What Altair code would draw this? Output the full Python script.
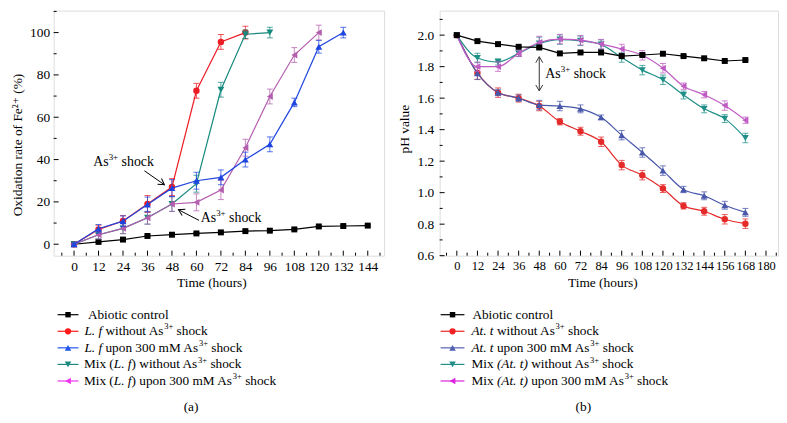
import altair as alt
import pandas as pd

FONT = "'Liberation Serif', 'Times New Roman', Times, 'DejaVu Serif', serif"

# ---------------- Panel (a): oxidation rate of Fe2+ (%) ----------------
a_hours = [0, 12, 24, 36, 48, 60, 72, 84, 96, 108, 120, 132, 144]
a_abiotic = [0, 1.1, 2.2, 3.9, 4.5, 5.1, 5.6, 6.2, 6.4, 7.0, 8.4, 8.6, 8.8]
a_abiotic_err = [0.3, 0.3, 0.3, 0.4, 0.4, 0.4, 0.4, 0.4, 0.4, 0.5, 0.5, 0.5, 0.5]
a_lf_no = [0, 7.0, 11.0, 19.0, 27.0, 72.5, 95.6, 100.0]
a_lf_no_err = [0.5, 2.0, 2.5, 4.0, 4.0, 3.5, 3.5, 3.0]
a_lf_shock = [0, 7.3, 10.9, 18.8, 26.5, 30.0, 31.6, 40.0, 47.2, 67.0, 93.3, 100.0]
a_lf_shock_err = [0.5, 2.0, 2.5, 3.5, 4.0, 4.0, 3.5, 3.5, 3.5, 2.0, 3.0, 2.5]
a_mix_no = [0, 4.5, 7.5, 12.5, 19.0, 28.6, 73.0, 99.2, 100.0]
a_mix_no_err = [0.5, 2.0, 2.5, 3.0, 3.5, 4.0, 3.5, 2.0, 2.5]
a_mix_shock = [0, 4.5, 7.5, 12.5, 19.0, 19.8, 25.6, 45.6, 69.8, 89.4, 100.0]
a_mix_shock_err = [0.5, 2.0, 2.5, 3.0, 3.5, 4.0, 4.5, 4.0, 3.5, 3.5, 3.5]
a_x_major = [0, 12, 24, 36, 48, 60, 72, 84, 96, 108, 120, 132, 144]
a_x_minor = [-6, 6, 18, 30, 42, 54, 66, 78, 90, 102, 114, 126, 138, 150]
a_y_major = [0, 20, 40, 60, 80, 100]
a_y_minor = [10, 30, 50, 70, 90, 110]

# ---------------- Panel (b): pH value ----------------
b_hours = [0, 12, 24, 36, 48, 60, 72, 84, 96, 108, 120, 132, 144, 156, 168]
b_abiotic = [2.0, 1.962, 1.943, 1.926, 1.922, 1.884, 1.89, 1.89, 1.867, 1.874, 1.882, 1.867, 1.853, 1.836, 1.842]
b_abiotic_err = [0.005, 0.005, 0.005, 0.005, 0.005, 0.005, 0.005, 0.005, 0.005, 0.005, 0.005, 0.005, 0.005, 0.005, 0.005]
b_at_no = [2.0, 1.76, 1.635, 1.60, 1.55, 1.45, 1.39, 1.323, 1.175, 1.111, 1.026, 0.916, 0.882, 0.831, 0.803]
b_at_no_err = [0.0, 0.04, 0.03, 0.025, 0.03, 0.02, 0.025, 0.03, 0.03, 0.03, 0.025, 0.02, 0.025, 0.03, 0.03]
b_at_shock = [2.0, 1.758, 1.636, 1.60, 1.556, 1.55, 1.532, 1.478, 1.365, 1.255, 1.14, 1.02, 0.98, 0.92, 0.875]
b_at_shock_err = [0.0, 0.04, 0.02, 0.02, 0.03, 0.03, 0.025, 0.015, 0.03, 0.03, 0.03, 0.02, 0.025, 0.025, 0.025]
b_mix_no = [2.0, 1.855, 1.83, 1.884, 1.947, 1.972, 1.964, 1.94, 1.858, 1.778, 1.717, 1.62, 1.532, 1.47, 1.347]
b_mix_no_err = [0.0, 0.03, 0.02, 0.02, 0.04, 0.03, 0.03, 0.03, 0.03, 0.03, 0.03, 0.025, 0.025, 0.025, 0.03]
b_mix_shock = [2.0, 1.80, 1.80, 1.884, 1.953, 1.975, 1.968, 1.943, 1.912, 1.872, 1.79, 1.676, 1.622, 1.553, 1.46]
b_mix_shock_err = [0.0, 0.03, 0.03, 0.02, 0.04, 0.03, 0.03, 0.03, 0.03, 0.03, 0.03, 0.02, 0.02, 0.03, 0.02]
b_x_major = [0, 12, 24, 36, 48, 60, 72, 84, 96, 108, 120, 132, 144, 156, 168, 180]
b_x_minor = [-6, 6, 18, 30, 42, 54, 66, 78, 90, 102, 114, 126, 138, 150, 162, 174, 186]
b_y_major = [0.6, 0.8, 1.0, 1.2, 1.4, 1.6, 1.8, 2.0]
b_y_minor = [0.7, 0.9, 1.1, 1.3, 1.5, 1.7, 1.9, 2.1]

# ---------------- text helpers (Times metrics) ----------------
REG = {' ': 250, '(': 333, ')': 333, '+': 564, '.': 250, '%': 833,
       'A': 722, 'F': 556, 'L': 611, 'M': 889,
       'a': 444, 'b': 500, 'c': 444, 'e': 444, 'f': 333, 'h': 500, 'i': 278,
       'k': 500, 'l': 278, 'm': 778, 'n': 500, 'o': 500, 'p': 500, 'r': 333,
       's': 389, 't': 278, 'u': 500, 'w': 722, 'x': 500}
for _d in '0123456789':
    REG[_d] = 500
ITA = {' ': 250, '(': 333, ')': 333, '.': 250, 'A': 611, 'L': 556, 'f': 278, 't': 278}


def tw(s, fs, italic=False):
    tbl = ITA if italic else REG
    return sum(tbl.get(c, 500) for c in s) * fs / 1000.0


def seg_props(st, fs):
    f = fs * 0.64 if st == 's' else fs
    dy = -fs * 0.36 if st == 's' else 0
    return f, dy


def split_lead(txt):
    stripped = txt.lstrip(' ')
    return len(txt) - len(stripped), stripped


ONE = [{"k": 0}]


def text_pixel(segs, x0, y0, fs):
    out = []
    off = 0.0
    for txt, st in segs:
        f, dy = seg_props(st, fs)
        nlead, core = split_lead(txt)
        off += nlead * 250 * f / 1000.0
        out.append(
            alt.Chart(alt.Data(values=ONE)).mark_text(
                text=core, font=FONT, fontSize=f,
                fontStyle='italic' if st == 'i' else 'normal',
                align='left', baseline='middle', color='black'
            ).encode(x=alt.value(x0 + off), y=alt.value(y0 + dy))
        )
        off += tw(core, f, st == 'i')
    return out


def text_data(segs, xv, yv, fs, sx, sy, ax, ay, color='black'):
    out = []
    off = 0.0
    for txt, st in segs:
        f, dy = seg_props(st, fs)
        nlead, core = split_lead(txt)
        off += nlead * 250 * f / 1000.0
        out.append(
            alt.Chart(alt.Data(values=[{"x": xv, "y": yv}])).mark_text(
                text=core, font=FONT, fontSize=f, align='left', baseline='middle',
                color=color, dx=off, dy=dy
            ).encode(x=alt.X('x:Q', scale=sx, axis=ax), y=alt.Y('y:Q', scale=sy, axis=ay))
        )
        off += tw(core, f)
    return out


ARROW = "M-0.7,1.2 L0,0 L0.7,1.2"


def arrow(x1, y1, x2, y2, heads, sx, sy, ax, ay, color='black'):
    seg = alt.Chart(alt.Data(values=[{"x": x1, "y": y1, "x2": x2, "y2": y2}])).mark_rule(
        color=color, strokeWidth=1
    ).encode(x=alt.X('x:Q', scale=sx, axis=ax), y=alt.Y('y:Q', scale=sy, axis=ay),
             x2='x2:Q', y2='y2:Q')
    out = [seg]
    for (hx, hy, ang) in heads:
        out.append(
            alt.Chart(alt.Data(values=[{"x": hx, "y": hy}])).mark_point(
                shape=ARROW, size=100, filled=False, stroke=color, strokeWidth=1, angle=ang, opacity=1
            ).encode(x=alt.X('x:Q', scale=sx, axis=ax), y=alt.Y('y:Q', scale=sy, axis=ay))
        )
    return out


def series_layers(hours, vals, errs, color, shape, size, sx, sy, ax, ay, interp):
    n = len(vals)
    df = pd.DataFrame({"t": hours[:n], "v": vals, "lo": [v - e for v, e in zip(vals, errs)],
                       "hi": [v + e for v, e in zip(vals, errs)]})
    base = alt.Chart(df)
    X = alt.X('t:Q', scale=sx, axis=ax)
    bar = base.mark_rule(color=color, strokeWidth=1, opacity=0.75).encode(
        x=X, y=alt.Y('lo:Q', scale=sy, axis=ay), y2='hi:Q')
    cap1 = base.mark_tick(color=color, orient='horizontal', size=6, thickness=1, opacity=0.75).encode(
        x=X, y=alt.Y('lo:Q', scale=sy, axis=ay))
    cap2 = base.mark_tick(color=color, orient='horizontal', size=6, thickness=1, opacity=0.75).encode(
        x=X, y=alt.Y('hi:Q', scale=sy, axis=ay))
    line = base.mark_line(color=color, strokeWidth=1.2, interpolate=interp).encode(
        x=X, y=alt.Y('v:Q', scale=sy, axis=ay))
    pts = base.mark_point(shape=shape, size=size, filled=True, color=color, opacity=1).encode(
        x=X, y=alt.Y('v:Q', scale=sy, axis=ay))
    return [bar, cap1, cap2, line, pts]


def tick_layers(sx, sy, H, xmaj, xmin, ymaj, ymin, ax, ay):
    L = []
    L.append(alt.Chart(pd.DataFrame({"v": xmaj})).mark_rule(color='black', strokeWidth=1).encode(
        x=alt.X('v:Q', scale=sx, axis=ax), y=alt.value(H), y2=alt.value(H - 5)))
    L.append(alt.Chart(pd.DataFrame({"v": xmin})).mark_rule(color='black', strokeWidth=1).encode(
        x=alt.X('v:Q', scale=sx, axis=ax), y=alt.value(H), y2=alt.value(H - 3)))
    L.append(alt.Chart(pd.DataFrame({"v": ymaj})).mark_rule(color='black', strokeWidth=1).encode(
        y=alt.Y('v:Q', scale=sy, axis=ay), x=alt.value(0), x2=alt.value(5)))
    L.append(alt.Chart(pd.DataFrame({"v": ymin})).mark_rule(color='black', strokeWidth=1).encode(
        y=alt.Y('v:Q', scale=sy, axis=ay), x=alt.value(0), x2=alt.value(3)))
    return L


def legend_layers(rows, xl0, xl1, xm, ys, fs):
    L = []
    for (segs, color, shape, size, xt), y in zip(rows, ys):
        L.append(alt.Chart(alt.Data(values=ONE)).mark_rule(color=color, strokeWidth=1.2).encode(
            x=alt.value(xl0), x2=alt.value(xl1), y=alt.value(y)))
        L.append(alt.Chart(alt.Data(values=ONE)).mark_point(
            shape=shape, size=size, filled=True, color=color, opacity=1).encode(
            x=alt.value(xm), y=alt.value(y)))
        L += text_pixel(segs, xt, y, fs)
    return L


def anchor(xpix):
    return alt.Chart(alt.Data(values=ONE)).mark_rule(opacity=0).encode(
        x=alt.value(xpix), x2=alt.value(xpix), y=alt.value(10), y2=alt.value(12))


def make_axes(xvals, yvals, xtitle_x, ytitle, ytitle_x, ytitle_y, xlabsize, ylabpad, yfmt):
    ax = alt.Axis(values=xvals, ticks=False, domain=False, grid=False, labelFont=FONT,
                  labelFontSize=xlabsize, labelColor='black', labelPadding=4, labelOverlap=False,
                  title='Time (hours)', titleFont=FONT, titleFontSize=13.5, titleFontWeight='normal',
                  titleColor='black', titleX=xtitle_x, titleY=27.5, titleBaseline='middle',
                  titleAlign='center')
    ay = alt.Axis(values=yvals, ticks=False, domain=False, grid=False, labelFont=FONT,
                  labelFontSize=13.5, labelColor='black', labelPadding=ylabpad, format=yfmt,
                  labelOverlap=False, title=ytitle, titleFont=FONT, titleFontSize=13.5,
                  titleFontWeight='normal', titleColor='black', titleX=ytitle_x, titleY=ytitle_y,
                  titleBaseline='middle', titleAlign='center', titleAngle=270)
    return ax, ay


H = 247
LEG_Y = [306.5, 323.2, 339.9, 356.6, 373.3]
SHOCK = [("As", 'n'), ("3+", 's'), (" shock", 'n')]

# ---------------- build panel (a) ----------------
WA = 333
sxa = alt.Scale(domain=[-10, 152], nice=False, zero=False)
sya = alt.Scale(domain=[-5.4, 110.4], nice=False, zero=False)
xa_axis, ya_axis = make_axes(a_x_major, a_y_major, 159, 'Oxidation rate of Fe²⁺ (%)', -36, 135, 13.5, 4, 'd')
A = (sxa, sya, xa_axis, ya_axis)

layers_a = [anchor(-45)]
layers_a += tick_layers(sxa, sya, H, a_x_major, a_x_minor, a_y_major, a_y_minor, xa_axis, ya_axis)
layers_a += series_layers(a_hours, a_abiotic, a_abiotic_err, '#000000', 'square', 36, *A, 'linear')
layers_a += series_layers(a_hours, a_lf_no, a_lf_no_err, '#ec1c24', 'circle', 42, *A, 'linear')
layers_a += series_layers(a_hours, a_mix_no, a_mix_no_err, '#178a7e', 'triangle-down', 48, *A, 'linear')
layers_a += series_layers(a_hours, a_mix_shock, a_mix_shock_err, '#b45eae', 'triangle-left', 48, *A, 'linear')
layers_a += series_layers(a_hours, a_lf_shock, a_lf_shock_err, '#1f45e0', 'triangle-up', 48, *A, 'linear')
layers_a += text_data(SHOCK, 9.4, 38.9, 14, *A)
layers_a += arrow(34.5, 34.7, 44.3, 28.1, [(44.3, 28.1, 125)], *A)
layers_a += text_data(SHOCK, 62.1, 12.2, 14, *A)
layers_a += arrow(61.3, 11.25, 51.2, 16.3, [(51.2, 16.3, 297)], *A)
rows_a = [
    ([("Abiotic control", 'n')], '#000000', 'square', 30, 34.5),
    ([("L. f", 'i'), (" without As", 'n'), ("3+", 's'), (" shock", 'n')], '#ff1a1a', 'circle', 40, 31),
    ([("L. f", 'i'), (" upon 300 mM As", 'n'), ("3+", 's'), (" shock", 'n')], '#2255ee', 'triangle-up', 44, 31),
    ([("Mix (", 'n'), ("L. f", 'i'), (") without As", 'n'), ("3+", 's'), (" shock", 'n')], '#1b8a80', 'triangle-down', 44, 30.5),
    ([("Mix (", 'n'), ("L. f", 'i'), (") upon 300 mM As", 'n'), ("3+", 's'), (" shock", 'n')], '#ee33ee', 'triangle-left', 44, 30.5),
]
layers_a += legend_layers(rows_a, 4, 25, 14.5, LEG_Y, 13.4)
layers_a += text_pixel([("(a)", 'n')], 131, 399.5, 13.5)
panel_a = alt.layer(*layers_a).properties(width=WA, height=H)

# ---------------- build panel (b) ----------------
WB = 341
sxb = alt.Scale(domain=[-10, 187], nice=False, zero=False)
syb = alt.Scale(domain=[0.6, 2.156], nice=False, zero=False)
xb_axis, yb_axis = make_axes(b_x_major, b_y_major, 164, 'pH value', -35, 119, 12.5, 6, '.1f')
B = (sxb, syb, xb_axis, yb_axis)

layers_b = tick_layers(sxb, syb, H, b_x_major, b_x_minor, b_y_major, b_y_minor, xb_axis, yb_axis)
layers_b += series_layers(b_hours, b_at_no, b_at_no_err, '#e52a2a', 'circle', 42, *B, 'monotone')
layers_b += series_layers(b_hours, b_at_shock, b_at_shock_err, '#4857a9', 'triangle-up', 48, *B, 'monotone')
layers_b += series_layers(b_hours, b_mix_no, b_mix_no_err, '#1f8f88', 'triangle-down', 48, *B, 'monotone')
layers_b += series_layers(b_hours, b_mix_shock, b_mix_shock_err, '#bf5cc4', 'triangle-left', 48, *B, 'monotone')
layers_b += series_layers(b_hours, b_abiotic, b_abiotic_err, '#000000', 'square', 36, *B, 'linear')
layers_b += arrow(48, 1.646, 48, 1.863, [(48, 1.863, 0), (48, 1.646, 180)], *B, color='#333333')
layers_b += text_data(SHOCK, 51.5, 1.754, 14, *B)
rows_b = [
    ([("Abiotic control", 'n')], '#000000', 'square', 30, 33),
    ([("At. t", 'i'), (" without As", 'n'), ("3+", 's'), (" shock", 'n')], '#ee2222', 'circle', 40, 32),
    ([("At. t", 'i'), (" upon 300 mM As", 'n'), ("3+", 's'), (" shock", 'n')], '#5060b0', 'triangle-up', 44, 32),
    ([("Mix ", 'n'), ("(At. t)", 'i'), (" without As", 'n'), ("3+", 's'), (" shock", 'n')], '#1f8f88', 'triangle-down', 44, 32),
    ([("Mix ", 'n'), ("(At. t)", 'i'), (" upon 300 mM As", 'n'), ("3+", 's'), (" shock", 'n')], '#dd22dd', 'triangle-left', 44, 32),
]
layers_b += legend_layers(rows_b, 1, 25, 13, LEG_Y, 13.4)
layers_b += text_pixel([("(b)", 'n')], 137, 399.5, 13.5)
panel_b = alt.layer(*layers_b).properties(width=WB, height=H)

chart = alt.hconcat(panel_a, panel_b, spacing=56, bounds='flush').properties(
    padding=0
).configure_view(
    stroke='black', strokeWidth=1
).configure_axis(
    titleFontWeight='normal', labelOverlap=False
).configure(font=FONT, background='white')

chart.save("out.html", embed_options={"renderer": "svg", "actions": False})
